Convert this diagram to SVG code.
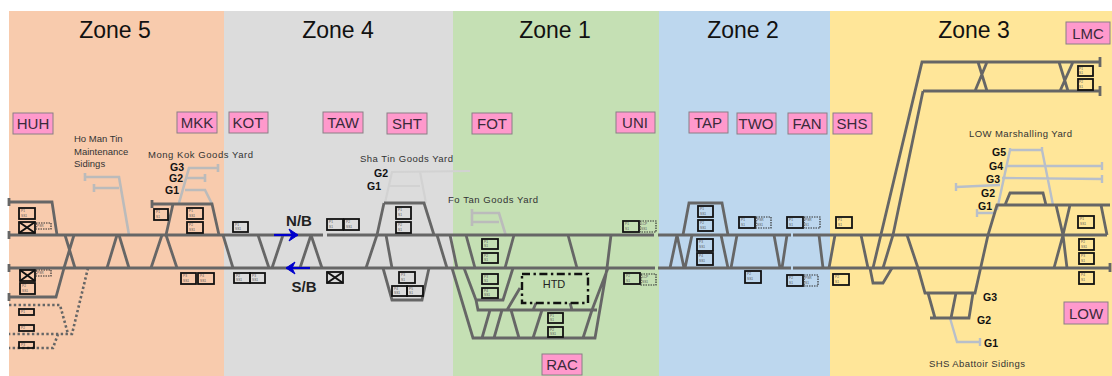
<svg xmlns="http://www.w3.org/2000/svg" width="1112" height="376" viewBox="0 0 1112 376">
<style>
text{font-family:"Liberation Sans",Arial,sans-serif;fill:#222}
.z{font-size:23px;text-anchor:middle;fill:#111}
.st rect{fill:#FF99CC;stroke:#8a7f85;stroke-width:1}
.st text{font-size:15px;text-anchor:middle;fill:#3a2a3a}
.lb{font-size:9.5px;fill:#333}
.g{font-size:10.5px;font-weight:bold;text-anchor:middle;fill:#111}
.d{font-size:15px;font-weight:bold;text-anchor:middle;fill:#222}
.tr{fill:none;stroke:#666;stroke-width:2.8}
.yd{fill:none;stroke:#bbb;stroke-width:2.6}
.yl{fill:none;stroke:#d2d2d2;stroke-width:2.2}
.yb{fill:none;stroke:#b8bfca;stroke-width:2.4}
.dt{fill:none;stroke:#666;stroke-width:2.6;stroke-dasharray:2.4 2.4}
.b rect{fill:none;stroke:#111;stroke-width:1.8}
.b path{fill:none;stroke:#111;stroke-width:2}
.b rect.o{stroke:#333;stroke-width:1.2;stroke-dasharray:1.5 1}
.b text{font-size:3.2px;fill:#555}
</style>
<defs>
<marker id="ah" markerUnits="userSpaceOnUse" markerWidth="12" markerHeight="14" refX="10" refY="7" orient="auto"><path d="M1 1L10 7L1 13L4 7Z" fill="#0000cc" stroke="#0000cc" stroke-width="1"/></marker>
</defs>
<g id="zones">
<rect x="9" y="11" width="215" height="365" fill="#F8CBAD"/>
<rect x="224" y="11" width="229" height="365" fill="#DCDCDC"/>
<rect x="453" y="11" width="206" height="365" fill="#C5E0B4"/>
<rect x="659" y="11" width="171" height="365" fill="#BDD7EE"/>
<rect x="830" y="11" width="282" height="365" fill="#FFE699"/>
<text class="z" x="115" y="38">Zone 5</text>
<text class="z" x="338" y="38">Zone 4</text>
<text class="z" x="555" y="38">Zone 1</text>
<text class="z" x="743" y="38">Zone 2</text>
<text class="z" x="974" y="38">Zone 3</text>
</g>
<g id="connectors">
<path class="yd" d="M129 235L119 177H85M85 173V181M119 188H94M94 184V192"/>
<path class="yd" d="M179 203L189 168H218M218 164V172M187 178H205M205 174V182M185 190H205L212 204"/>
<path class="yl" d="M385 203L392 172L470 171M420 172L426 203M388 186H420"/>
<path class="yd" d="M506 236L499 213H472M499 222H472M472 209V226"/>
<path class="yb" d="M1053 205L1042 150H1010L997 210M1042 147V151M1010 148V151M1007 166H1102M1102 162V170M1002 178L1102 179M1102 175V183M956 187L1000 185M956 183V191M977 213H995M977 209V217M950 318L957 342H980M980 338V346"/>
<path class="tr" d="M9 235H323M327 235H654M658 235H791M793 235H1107M9 268H655M658 268H791M793 268H1110"/>
<path class="tr" d="M9 202H52L57 235M9 297H56L64 268M65 235L75 268M74 235L64 268M117 235L107 268M119 235L129 268M162 235L151 268M166 235L177 268M173 204L166 235M152 204H212L219 235M9 198V206M9 231V239M9 264V272M9 293V301M152 200V208M1110 263V272"/>
<path class="tr" d="M223 235L233 268M258 235L269 268M283 235L272 268M311 235L300 268M311 235L322 268"/>
<path class="tr" d="M384 203L377 235L366 268M384 203H424L434 235M437 235L447 268M386 235L392 268M383 268L392 300H422L429 268"/>
<path class="tr" d="M450 235L457 268M452 268L473 338H595L607 268L611 235M466 235L475 268M464 268L476 300H503L513 268M514 235L505 268M476 300L478 310H597M608 268L592 310M490 310L482 338M502 310L494 338M511 310L519 338M542 310L533 338M592 310L583 338M568 235L577 268M520 288L507 310M536 303L533 310M570 303L572 310"/>
<path class="tr" d="M683 235L689 203H722L728 235M677 235L670 268M677 235L684 268M692 235L685 268M721 235L728 268M737 235L731 268M774 235L780 268M787 235L782 268M819 235L823 268M835 235L829 268M861 235L868 268"/>
<path class="tr" d="M1100 62H922L873 268M923 91H1100M923 91L893 235L883 268M870 268L873 283H883L892 268M1100 57V67M1100 86V96M978 62L987 91M987 62L975 91M1059 62L1068 91M1073 62L1060 91"/>
<path class="tr" d="M907 235L918 268L925 293H975L988 235L997 205H1110M928 293L935 318M930 318H969L973 293M956 293L951 318M1005 205L1010 193H1043L1046 205M1056 205L1063 235L1067 268M1070 205L1063 235L1054 268M1101 205L1107 235"/>
<path class="dt" d="M88 268L72 334H9M9 305H60L68 334M58 334L53 348H9"/>
<path d="M274 235H298" fill="none" stroke="#0000cc" stroke-width="2.2" marker-end="url(#ah)"/>
<path d="M310 268H286" fill="none" stroke="#0000cc" stroke-width="2.2" marker-end="url(#ah)"/>
</g>
<g id="htd"><rect x="522" y="274" width="66" height="29" fill="none" stroke="#111" stroke-width="2.4" stroke-dasharray="8 3.5 2.4 3.5"/><text x="554" y="288" font-size="11" text-anchor="middle" fill="#444">HTD</text></g>
<g id="stations" class="st">
<g id="HUH"><rect x="13" y="113" width="40" height="21"/><text x="33" y="129">HUH</text></g>
<g id="MKK"><rect x="177" y="112" width="40" height="21"/><text x="197" y="128">MKK</text></g>
<g id="KOT"><rect x="229" y="112" width="39" height="21"/><text x="248" y="128">KOT</text></g>
<g id="TAW"><rect x="323" y="112" width="40" height="21"/><text x="343" y="128">TAW</text></g>
<g id="SHT"><rect x="387" y="113" width="40" height="21"/><text x="407" y="129">SHT</text></g>
<g id="FOT"><rect x="472" y="113" width="40" height="21"/><text x="492" y="129">FOT</text></g>
<g id="UNI"><rect x="616" y="112" width="39" height="21"/><text x="635" y="128">UNI</text></g>
<g id="TAP"><rect x="689" y="112" width="39" height="21"/><text x="708" y="128">TAP</text></g>
<g id="TWO"><rect x="737" y="113" width="39" height="21"/><text x="756" y="129">TWO</text></g>
<g id="FAN"><rect x="788" y="113" width="39" height="21"/><text x="807" y="129">FAN</text></g>
<g id="SHS"><rect x="833" y="113" width="39" height="21"/><text x="852" y="129">SHS</text></g>
<g id="LMC"><rect x="1066" y="22" width="44" height="22"/><text x="1088" y="39">LMC</text></g>
<g id="LOW"><rect x="1064" y="302" width="44" height="22"/><text x="1086" y="319">LOW</text></g>
<g id="RAC"><rect x="542" y="354" width="40" height="21"/><text x="562" y="370">RAC</text></g>
</g>
<g id="labels">
<text class="lb" x="74" y="142">Ho Man Tin</text>
<text class="lb" x="74" y="155">Maintenance</text>
<text class="lb" x="74" y="167">Sidings</text>
<text class="lb" x="148" y="158" textLength="105">Mong Kok Goods Yard</text>
<text class="lb" x="360" y="162" textLength="93">Sha Tin Goods Yard</text>
<text class="lb" x="448" y="203" textLength="90">Fo Tan Goods Yard</text>
<text class="lb" x="969" y="137" textLength="103">LOW Marshalling Yard</text>
<text class="lb" x="929" y="367" textLength="96">SHS Abattoir Sidings</text>
<text class="g" x="177" y="171">G3</text><text class="g" x="176" y="182">G2</text><text class="g" x="172" y="194">G1</text>
<text class="g" x="381" y="177">G2</text><text class="g" x="374" y="190">G1</text>
<text class="g" x="999" y="156">G5</text><text class="g" x="996" y="170">G4</text><text class="g" x="993" y="183">G3</text><text class="g" x="988" y="197">G2</text><text class="g" x="985" y="210">G1</text>
<text class="g" x="990" y="301">G3</text><text class="g" x="984" y="324">G2</text><text class="g" x="991" y="347">G1</text>
<text class="d" x="299" y="226">N/B</text><text class="d" x="304" y="292">S/B</text>
</g>
<g id="platforms" class="b">
<g transform="translate(19 208)"><rect width="16" height="11"/><text x="2" y="4">P1</text><text x="2" y="9">SS1</text></g>
<g transform="translate(19 222)"><rect width="16" height="11"/><path d="M0 0L16 11M16 0L0 11"/></g>
<g transform="translate(36 223)"><rect class="o" width="15" height="6"/><text x="1" y="4">PSR</text></g>
<g transform="translate(20 270)"><rect width="15" height="11"/><path d="M0 0L15 11M15 0L0 11"/></g>
<g transform="translate(36 270)"><rect class="o" width="15" height="6"/><text x="1" y="4">PSR</text></g>
<g transform="translate(20 283)"><rect width="15" height="11"/><text x="2" y="4">P2</text><text x="2" y="9">SS1</text></g>
<g transform="translate(19 309)"><rect width="15" height="6"/><text x="2" y="4">P1</text></g>
<g transform="translate(19 325)"><rect width="15" height="6"/><text x="2" y="4">P2</text></g>
<g transform="translate(19 342)"><rect width="15" height="6"/><text x="2" y="4">P3</text></g>
<g transform="translate(154 209)"><rect width="14" height="11"/><text x="2" y="4">P1</text><text x="2" y="9">S1</text></g>
<g transform="translate(187 208)"><rect width="16" height="11"/><text x="2" y="4">P1</text><text x="2" y="9">SS1</text></g>
<g transform="translate(187 222)"><rect width="16" height="11"/><text x="2" y="4">P2</text><text x="2" y="9">SS1</text></g>
<g transform="translate(181 273)"><rect width="15" height="11"/><text x="2" y="4">P3</text><text x="2" y="9">SS1</text></g>
<g transform="translate(198 273)"><rect width="16" height="11"/><text x="2" y="4">P4</text><text x="2" y="9">SS1</text></g>
<g transform="translate(233 222)"><rect width="15" height="10"/><text x="2" y="4">P1</text><text x="2" y="8">SS1</text></g>
<g transform="translate(234 273)"><rect width="16" height="10"/><text x="2" y="4">P2</text><text x="2" y="8">SS1</text></g>
<g transform="translate(250 273)"><rect width="15" height="10"/><text x="2" y="4">P3</text><text x="2" y="8">SS1</text></g>
<g transform="translate(327 219)"><rect width="16" height="11"/><text x="2" y="4">P1</text><text x="2" y="9">S1</text></g>
<g transform="translate(344 219)"><rect width="15" height="11"/><text x="2" y="4">P2</text><text x="2" y="9">SS1</text></g>
<g transform="translate(327 272)"><rect width="16" height="11"/><path d="M0 0L16 11M16 0L0 11"/></g>
<g transform="translate(396 207)"><rect width="15" height="12"/><text x="2" y="4">P1</text><text x="2" y="9">S1</text></g>
<g transform="translate(396 222)"><rect width="15" height="11"/><text x="2" y="4">P2</text><text x="2" y="9">S1</text></g>
<g transform="translate(399 272)"><rect width="16" height="11"/><text x="2" y="4">P3</text><text x="2" y="9">S1</text></g>
<g transform="translate(392 286)"><rect width="15" height="10"/><text x="2" y="4">P4</text><text x="2" y="8">SS1</text></g>
<g transform="translate(407 286)"><rect width="16" height="10"/><text x="2" y="4">P5</text><text x="2" y="8">S1</text></g>
<g transform="translate(482 239)"><rect width="16" height="10"/><text x="2" y="4">P1</text><text x="2" y="8">S1</text></g>
<g transform="translate(482 253)"><rect width="16" height="10"/><text x="2" y="4">P2</text><text x="2" y="8">S1</text></g>
<g transform="translate(482 274)"><rect width="16" height="10"/><text x="2" y="4">P3</text><text x="2" y="8">S1</text></g>
<g transform="translate(482 288)"><rect width="16" height="10"/><text x="2" y="4">P4</text><text x="2" y="8">SS1</text></g>
<g transform="translate(548 313)"><rect width="15" height="10"/><text x="2" y="4">P1</text><text x="2" y="8">S1</text></g>
<g transform="translate(548 327)"><rect width="15" height="10"/><text x="2" y="4">P2</text><text x="2" y="8">SS1</text></g>
<g transform="translate(623 221)"><rect width="16" height="11"/><text x="2" y="4">P1</text><text x="2" y="9">S1</text></g>
<g transform="translate(640 221)"><rect class="o" width="16" height="11"/><text x="1" y="4">LCP</text><text x="1" y="9">SS1</text></g>
<g transform="translate(624 273)"><rect width="16" height="11"/><text x="2" y="4">P2</text><text x="2" y="9">S1</text></g>
<g transform="translate(641 274)"><rect class="o" width="15" height="11"/><text x="1" y="4">LCP</text><text x="1" y="9">SS1</text></g>
<g transform="translate(698 206)"><rect width="15" height="11"/><text x="2" y="4">P1</text><text x="2" y="9">SS1</text></g>
<g transform="translate(698 220)"><rect width="15" height="11"/><text x="2" y="4">P2</text><text x="2" y="9">SS1</text></g>
<g transform="translate(697 239)"><rect width="16" height="12"/><text x="2" y="4">P3</text><text x="2" y="9">SS1</text></g>
<g transform="translate(697 253)"><rect width="16" height="12"/><text x="2" y="4">P4</text><text x="2" y="9">SS1</text></g>
<g transform="translate(739 217)"><rect width="16" height="11"/><text x="2" y="4">P1</text><text x="2" y="9">S1</text></g>
<g transform="translate(756 217)"><rect class="o" width="15" height="11"/><text x="1" y="4">PSR</text><text x="1" y="9">SS1</text></g>
<g transform="translate(787 217)"><rect width="16" height="11"/><text x="2" y="4">P1</text><text x="2" y="9">S1</text></g>
<g transform="translate(804 217)"><rect class="o" width="16" height="11"/><text x="1" y="4">PSR</text><text x="1" y="9">S1</text></g>
<g transform="translate(745 271)"><rect width="16" height="12"/><text x="2" y="4">P2</text><text x="2" y="9">SS1</text></g>
<g transform="translate(787 275)"><rect width="16" height="11"/><text x="2" y="4">P2</text><text x="2" y="9">S1</text></g>
<g transform="translate(804 275)"><rect class="o" width="14" height="11"/><text x="1" y="4">PSR</text><text x="1" y="9">S1</text></g>
<g transform="translate(836 217)"><rect width="16" height="11"/><text x="2" y="4">P1</text><text x="2" y="9">S1</text></g>
<g transform="translate(833 274)"><rect width="16" height="11"/><text x="2" y="4">P2</text><text x="2" y="9">S1</text></g>
<g transform="translate(1078 66)"><rect width="15" height="10"/><text x="1" y="4">P1</text><text x="1" y="8">S1</text></g>
<g transform="translate(1078 79)"><rect width="15" height="11"/><text x="1" y="4">P2</text><text x="1" y="9">S1</text></g>
<g transform="translate(1078 216)"><rect width="16" height="12"/><text x="2" y="4">P1</text><text x="2" y="9">SS1</text></g>
<g transform="translate(1079 239)"><rect width="15" height="11"/><text x="2" y="4">P2</text><text x="2" y="9">SS1</text></g>
<g transform="translate(1079 253)"><rect width="15" height="11"/><text x="2" y="4">P3</text><text x="2" y="9">S1</text></g>
<g transform="translate(1079 272)"><rect width="15" height="12"/><text x="2" y="4">P4</text><text x="2" y="9">S1</text></g>
</g>
</svg>
